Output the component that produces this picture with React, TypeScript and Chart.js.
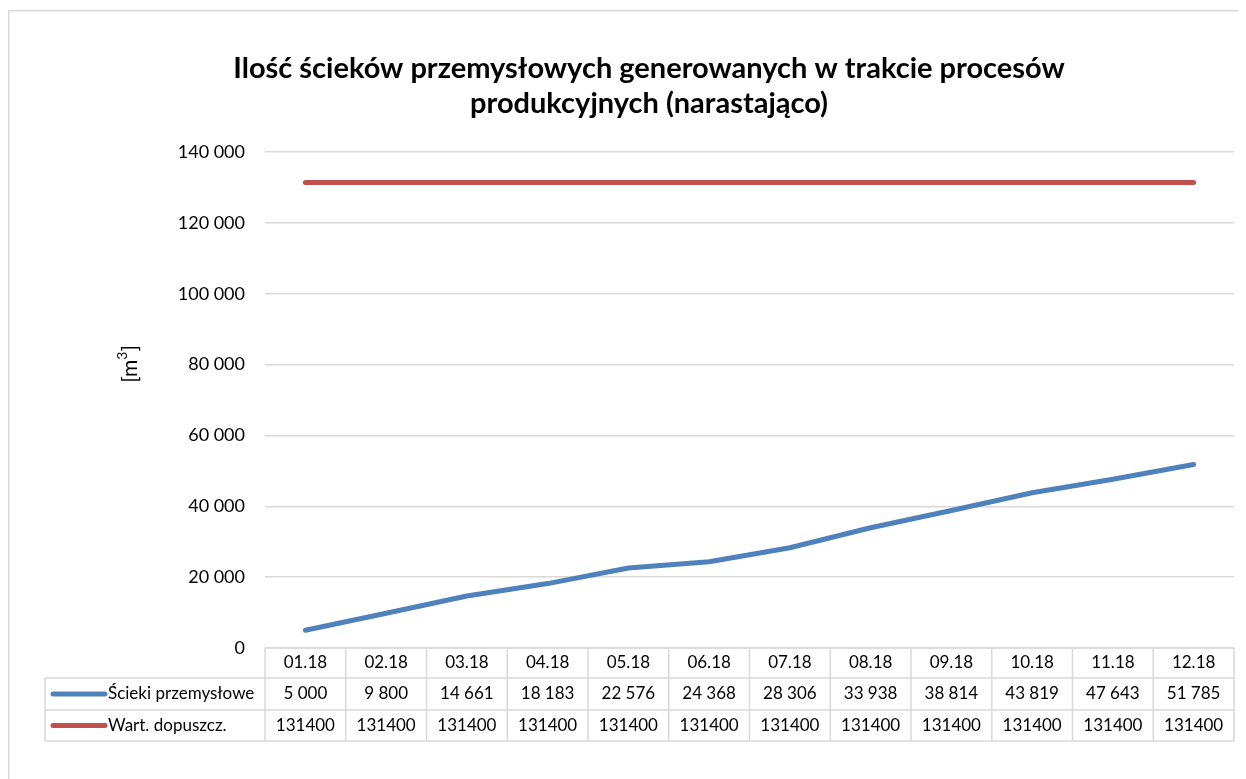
import React, { useEffect, useRef } from "react";
import { Chart, registerables } from "chart.js";

Chart.register(...registerables);

const categories = ["01.18", "02.18", "03.18", "04.18", "05.18", "06.18", "07.18", "08.18", "09.18", "10.18", "11.18", "12.18"];
const sciekiValues = [5000, 9800, 14661, 18183, 22576, 24368, 28306, 33938, 38814, 43819, 47643, 51785];
const limitValues = [131400, 131400, 131400, 131400, 131400, 131400, 131400, 131400, 131400, 131400, 131400, 131400];
const seriesNames = ["Ścieki przemysłowe", "Wart. dopuszcz."];
const titleLines = ["Ilość ścieków przemysłowych generowanych w trakcie procesów", "produkcyjnych (narastająco)"];
const yTicks = [0, 20000, 40000, 60000, 80000, 100000, 120000, 140000];

const BLUE = "#4F81BD";
const RED = "#C0504D";
const GRID = "#d9d9d9";
const FONT = "Lato, 'Open Sans', sans-serif";

const fmtSpace = (v: number) => String(Math.round(v)).replace(/\B(?=(\d{3})+(?!\d))/g, " ");

const W = 1238;
const H = 771;

const decorPlugin = {
  id: "decor",
  beforeDraw(chart: any) {
    const ctx = chart.ctx;
    ctx.save();
    ctx.fillStyle = "#ffffff";
    ctx.fillRect(0, 0, chart.width, chart.height);
    ctx.strokeStyle = GRID;
    ctx.lineWidth = 1.5;
    ctx.strokeRect(0.75, 2.75, chart.width + 20, chart.height + 20);
    ctx.restore();
  },
  afterDraw(chart: any) {
    const ctx = chart.ctx;
    const area = chart.chartArea;
    ctx.save();
    // title
    ctx.fillStyle = "#000000";
    ctx.textAlign = "center";
    ctx.textBaseline = "alphabetic";
    ctx.font = `bold 29px ${FONT}`;
    ctx.fillText(titleLines[0], 641, 70);
    ctx.fillText(titleLines[1], 641, 105);

    // y axis title [m3]
    ctx.save();
    ctx.translate(122, 356);
    ctx.rotate(-Math.PI / 2);
    ctx.font = `21px ${FONT}`;
    ctx.textAlign = "left";
    ctx.textBaseline = "middle";
    const p1 = "[m";
    const w1 = ctx.measureText(p1).width;
    ctx.font = `14px ${FONT}`;
    const w2 = ctx.measureText("3").width;
    ctx.font = `21px ${FONT}`;
    const w3 = ctx.measureText("]").width;
    const total = w1 + w2 + w3;
    let x = -total / 2;
    ctx.fillText(p1, x, 0);
    x += w1;
    ctx.font = `14px ${FONT}`;
    ctx.fillText("3", x, -8);
    x += w2;
    ctx.font = `21px ${FONT}`;
    ctx.fillText("]", x, 0);
    ctx.restore();

    // data table
    const left = area.left;
    const right = area.right;
    const n = categories.length;
    const colW = (right - left) / n;
    const rowTops = [area.bottom, area.bottom + 30, area.bottom + 62, area.bottom + 93];
    const legLeft = 37;
    ctx.strokeStyle = GRID;
    ctx.lineWidth = 1.5;
    ctx.beginPath();
    ctx.moveTo(left, rowTops[0]);
    ctx.lineTo(right, rowTops[0]);
    for (let r = 1; r < 4; r++) {
      ctx.moveTo(legLeft, rowTops[r]);
      ctx.lineTo(right, rowTops[r]);
    }
    for (let c = 0; c <= n; c++) {
      const xx = left + c * colW;
      ctx.moveTo(xx, rowTops[0]);
      ctx.lineTo(xx, rowTops[3]);
    }
    ctx.moveTo(legLeft, rowTops[1]);
    ctx.lineTo(legLeft, rowTops[3]);
    ctx.stroke();

    ctx.fillStyle = "#000000";
    ctx.font = `17px ${FONT}`;
    ctx.textAlign = "center";
    ctx.textBaseline = "middle";
    const rowsData = [sciekiValues.map(fmtSpace), limitValues.map((v) => String(v))];
    for (let c = 0; c < n; c++) {
      const cx = left + (c + 0.5) * colW;
      ctx.fillText(categories[c], cx, (rowTops[0] + rowTops[1]) / 2);
      ctx.fillText(rowsData[0][c], cx, (rowTops[1] + rowTops[2]) / 2);
      ctx.fillText(rowsData[1][c], cx, (rowTops[2] + rowTops[3]) / 2);
    }
    const colors = [BLUE, RED];
    for (let r = 0; r < 2; r++) {
      const cy = (rowTops[r + 1] + rowTops[r + 2]) / 2;
      ctx.strokeStyle = colors[r];
      ctx.lineWidth = 5;
      ctx.lineCap = "round";
      ctx.beginPath();
      ctx.moveTo(45, cy);
      ctx.lineTo(97, cy);
      ctx.stroke();
      ctx.fillStyle = "#000000";
      ctx.textAlign = "left";
      ctx.fillText(seriesNames[r], 100, cy);
    }
    ctx.restore();
  },
};

export default function App() {
  const ref = useRef<HTMLCanvasElement | null>(null);
  useEffect(() => {
    if (!ref.current) return;
    const chart = new Chart(ref.current, {
      type: "line",
      data: {
        labels: categories,
        datasets: [
          {
            label: seriesNames[0],
            data: sciekiValues,
            borderColor: BLUE,
            backgroundColor: BLUE,
            borderWidth: 5,
            pointRadius: 0,
            borderCapStyle: "round",
            borderJoinStyle: "round",
            tension: 0,
          },
          {
            label: seriesNames[1],
            data: limitValues,
            borderColor: RED,
            backgroundColor: RED,
            borderWidth: 5,
            pointRadius: 0,
            borderCapStyle: "round",
            borderJoinStyle: "round",
            tension: 0,
          },
        ],
      },
      options: {
        responsive: false,
        animation: false,
        layout: { padding: { top: 144, right: 12, bottom: 131, left: 0 } },
        plugins: {
          legend: { display: false },
          title: { display: false },
          tooltip: { enabled: false },
        },
        scales: {
          x: { type: "category", display: false, offset: true },
          y: {
            min: 0,
            max: 140000,
            afterBuildTicks: (scale: any) => {
              scale.ticks = yTicks.map((v) => ({ value: v }));
            },
            afterFit: (scale: any) => {
              scale.width = 257;
            },
            grid: { color: GRID, lineWidth: 1.5, drawTicks: false },
            border: { display: false },
            ticks: {
              padding: 20,
              color: "#000000",
              font: { family: FONT, size: 18 },
              callback: (v: any) => fmtSpace(Number(v)),
            },
          },
        },
      },
      plugins: [decorPlugin],
    });
    return () => chart.destroy();
  }, []);
  return (
    <canvas ref={ref} width={W} height={H} style={{ display: "block", width: W, height: H }} />
  );
}
